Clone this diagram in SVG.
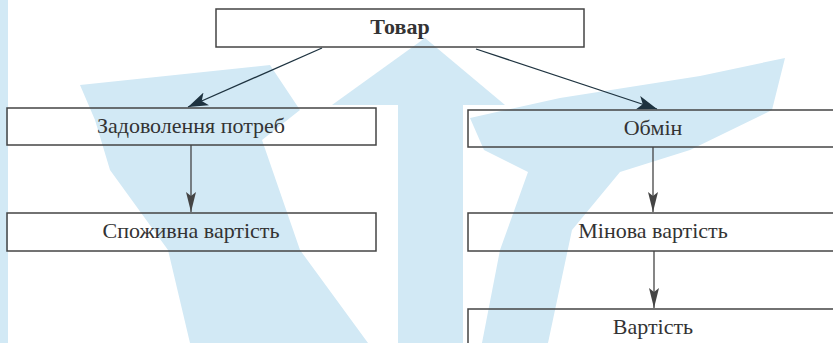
<svg xmlns="http://www.w3.org/2000/svg" width="833" height="343" viewBox="0 0 833 343">
<style>
.box{fill:none;stroke:#444;stroke-width:1.5}
.lbl{font-family:"Liberation Serif","Times New Roman",serif;font-size:22px;fill:#333;text-anchor:middle}
.wm{fill:#d2e9f5}
.c1{stroke:#1e3340;stroke-width:1.3;fill:none}
.c2{stroke:#444;stroke-width:1.3;fill:none}
</style>
<defs>
<marker id="ah1" viewBox="0 0 20 14" refX="20" refY="7" markerWidth="20" markerHeight="14" markerUnits="userSpaceOnUse" orient="auto">
<path d="M0,0 L20,7 L0,14 L5,7 Z" fill="#1e3340"/>
</marker>
<marker id="ah2" viewBox="0 0 20 10" refX="20" refY="5" markerWidth="20" markerHeight="10" markerUnits="userSpaceOnUse" orient="auto">
<path d="M0,0 L20,5 L0,10 L4,5 Z" fill="#444"/>
</marker>
</defs>
<rect width="833" height="343" fill="#fff"/>
<g id="watermark">
<rect class="wm" x="0" y="0" width="8" height="343"/>
<polygon class="wm" points="425,38 505,105 463,105 463,343 398,343 398,105 332,105"/>
<polygon class="wm" points="80,85 270,65 300,110 262,140 300,250 368,343 190,343 168,250 110,170 95,120"/>
<polygon class="wm" points="470,118 560,98 700,76 785,58 772,110 690,150 620,172 572,230 548,343 482,343 500,250 528,172 484,150"/>
</g>
<g id="connectors">
<line class="c1" x1="322" y1="48" x2="188" y2="107" marker-end="url(#ah1)"/>
<line class="c1" x1="476" y1="49" x2="657" y2="109" marker-end="url(#ah1)"/>
<line class="c2" x1="191" y1="145" x2="191" y2="212" marker-end="url(#ah2)"/>
<line class="c2" x1="653" y1="147" x2="653" y2="212" marker-end="url(#ah2)"/>
<line class="c2" x1="654" y1="251" x2="654" y2="308" marker-end="url(#ah2)"/>
</g>
<g id="n-tovar">
<rect class="box" x="216" y="9" width="368" height="38"/>
<text class="lbl" x="400" y="34" font-weight="bold" font-size="21">Товар</text>
</g>
<g id="n-zadovolennia">
<rect class="box" x="7" y="108" width="369" height="37"/>
<text class="lbl" x="191" y="133">Задоволення потреб</text>
</g>
<g id="n-obmin">
<rect class="box" x="468" y="110" width="370" height="37"/>
<text class="lbl" x="653" y="135">Обмін</text>
</g>
<g id="n-spozhyvna">
<rect class="box" x="7" y="213" width="369" height="38"/>
<text class="lbl" x="191" y="238">Споживна вартість</text>
</g>
<g id="n-minova">
<rect class="box" x="468" y="213" width="370" height="38"/>
<text class="lbl" x="653" y="238">Мінова вартість</text>
</g>
<g id="n-vartist">
<rect class="box" x="468" y="309" width="370" height="45"/>
<text class="lbl" x="653" y="334">Вартість</text>
</g>
</svg>
